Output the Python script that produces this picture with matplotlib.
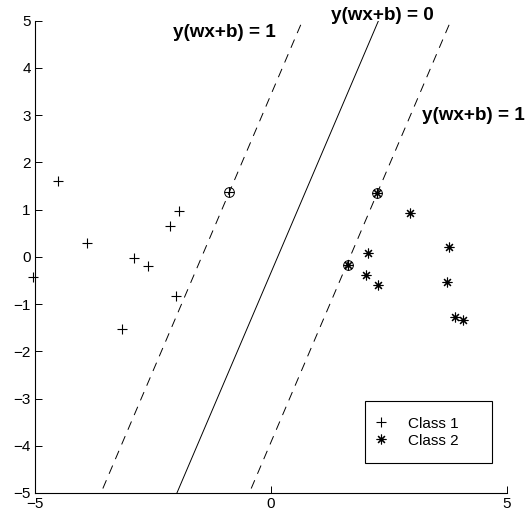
import matplotlib
matplotlib.use("Agg")
import matplotlib.pyplot as plt
import numpy as np

plt.rcParams['font.family'] = ['Liberation Sans', 'DejaVu Sans']
plt.rcParams['lines.scale_dashes'] = False

# Class 1 ('+')
class1_x = [-4.51, -3.89, -2.90, -2.61, -2.13, -1.94, -2.01, -3.15, -0.88, -5.04]
class1_y = [1.60, 0.30, -0.02, -0.19, 0.66, 0.96, -0.82, -1.53, 1.37, -0.43]
# Class 2 ('*')
class2_x = [2.25, 2.94, 3.78, 2.07, 1.63, 2.02, 2.27, 3.73, 3.91, 4.07]
class2_y = [1.35, 0.93, 0.21, 0.08, -0.18, -0.39, -0.59, -0.54, -1.28, -1.33]
# support vectors (circled)
sv_x = [-0.88, 2.25, 1.63]
sv_y = [1.37, 1.35, -0.18]

# hyperplane: w1*x + w2*y + b = level
w = [2.34, -1.0]
b = 0.0
levels = [-3.43, 0.34, 3.93]
line_styles = ['--', '-', '--']
y_span = [-5, 5]

fig = plt.figure(figsize=(5.29, 5.16), dpi=100)
ax = fig.add_axes([0.0662, 0.0446, 0.8916, 0.9153])

star = (8, 2, 0)
h1, = ax.plot(class1_x, class1_y, linestyle='none', marker='+', color='black',
              markersize=7, markeredgewidth=0.8, clip_on=False, label='Class 1')
h2, = ax.plot(class2_x, class2_y, linestyle='none', marker=star, color='black',
              markersize=7, markeredgewidth=0.8, clip_on=False, label='Class 2')
ax.plot(sv_x, sv_y, linestyle='none', marker='o', markerfacecolor='none',
        markeredgecolor='black', markersize=7, markeredgewidth=0.7)

ys = np.array(y_span, dtype=float)
for lev, ls in zip(levels, line_styles):
    xs = (lev - b - w[1] * ys) / w[0]
    if ls == '--':
        ax.plot(xs, ys, color='black', linewidth=0.7, linestyle=(8, (6.5, 5)))
    else:
        ax.plot(xs, ys, color='black', linewidth=0.7)

ax.text(-2.07, 4.75, 'y(wx+b) = 1', fontsize=13.6, fontweight='bold', va='center', ha='left')
ax.text(1.27, 5.12, 'y(wx+b) = 0', fontsize=13.6, fontweight='bold', va='center', ha='left', clip_on=False)
ax.text(3.21, 2.99, 'y(wx+b) = 1', fontsize=13.6, fontweight='bold', va='center', ha='left', clip_on=False)

ax.set_xlim(-5, 5)
ax.set_ylim(-5, 5)
ax.set_xticks([-5, 0, 5])
ax.set_yticks(np.arange(-5, 6, 1))
ax.tick_params(direction='in', length=5, width=0.7, labelsize=11, pad=3)
for s in ['top', 'right']:
    ax.spines[s].set_visible(False)
for s in ['left', 'bottom']:
    ax.spines[s].set_linewidth(0.8)

leg = ax.legend(handles=[h1, h2], loc='upper left', bbox_to_anchor=(0.6996, 0.066, 0.27, 0.128),
                mode='expand', fontsize=11, frameon=True, fancybox=False, framealpha=1,
                edgecolor='black', borderpad=1.0, labelspacing=0.2, handlelength=0.1,
                handletextpad=1.7, borderaxespad=0)
leg.get_frame().set_linewidth(0.8)

fig.savefig('out.png', dpi=100)
